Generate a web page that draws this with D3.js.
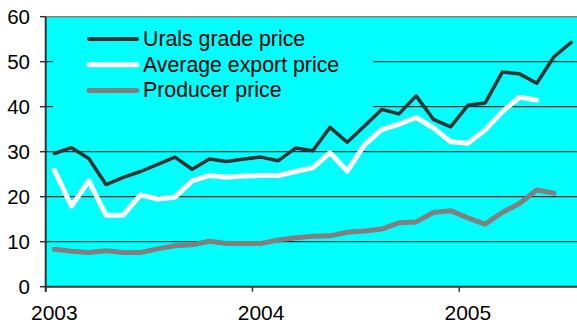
<!DOCTYPE html>
<html>
<head>
<meta charset="utf-8">
<script src="https://cdn.jsdelivr.net/npm/d3@7/dist/d3.min.js"></script>
<style>
  html, body { margin: 0; padding: 0; background: #ffffff; }
  svg { display: block; font-family: "Liberation Sans", Arial, sans-serif; }
</style>
</head>
<body>
<svg id="chart" width="577" height="325"></svg>
<script>
// Monthly oil prices, Jan 2003 onwards (USD per barrel)
const yearLabels = ["2003", "2004", "2005"];
const seriesNames = ["Urals grade price", "Average export price", "Producer price"];
const yTicks = [0, 10, 20, 30, 40, 50, 60];

const uralsPrice = [29.6, 30.9, 28.5, 22.7, 24.3, 25.6, 27.2, 28.8, 26.1, 28.4,
                    27.8, 28.4, 28.8, 28.0, 30.8, 30.2, 35.4, 32.1, 35.7, 39.4,
                    38.4, 42.4, 37.2, 35.5, 40.3, 40.8, 47.7, 47.3, 45.2, 51.1, 54.3];
const exportPrice = [25.9, 17.9, 23.5, 15.9, 15.9, 20.4, 19.5, 19.9, 23.5, 24.7,
                     24.3, 24.6, 24.7, 24.7, 25.6, 26.4, 29.8, 25.7, 31.5, 34.9,
                     36.1, 37.6, 35.3, 32.2, 31.9, 34.8, 38.9, 42.1, 41.5];
const producerPrice = [8.3, 7.9, 7.6, 8.0, 7.6, 7.6, 8.4, 9.1, 9.3, 10.1,
                       9.6, 9.6, 9.6, 10.4, 10.9, 11.2, 11.3, 12.1, 12.4, 12.8,
                       14.2, 14.4, 16.5, 16.9, 15.3, 13.9, 16.5, 18.5, 21.5, 20.8];

const colors = ["#333333", "#ffffff", "#808080"];
const widths = [3.5, 5, 5];

const svg = d3.select("#chart");
const plotLeft = 45.7, plotTop = 16.7, plotBottom = 286.7, monthW = 17.23, nMonths = 32;

const x = d3.scaleLinear().domain([0, nMonths]).range([plotLeft, plotLeft + nMonths * monthW]);
const y = d3.scaleLinear().domain([0, 60]).range([plotBottom, plotTop]);

// plot background
svg.append("rect")
  .attr("x", plotLeft).attr("y", plotTop)
  .attr("width", 577 - plotLeft).attr("height", plotBottom - plotTop)
  .attr("fill", "#00ffff");

// horizontal gridlines
svg.append("g").selectAll("line")
  .data(yTicks.filter(v => v > 0 && v < 60))
  .join("line")
  .attr("x1", plotLeft).attr("x2", 577)
  .attr("y1", d => y(d)).attr("y2", d => y(d))
  .attr("stroke", "#000").attr("stroke-width", 1);

// top border of plot
svg.append("line")
  .attr("x1", plotLeft).attr("x2", 577)
  .attr("y1", y(60)).attr("y2", y(60))
  .attr("stroke", "#808080").attr("stroke-width", 1.5);

// legend box (covers gridlines behind it)
const legend = svg.append("g");
legend.append("rect")
  .attr("x", 53).attr("y", 22).attr("width", 320).attr("height", 88)
  .attr("fill", "#00ffff");
seriesNames.forEach((name, k) => {
  const ly = 39 + k * 25.8;
  legend.append("line")
    .attr("x1", 89).attr("x2", 137).attr("y1", ly).attr("y2", ly)
    .attr("stroke", colors[k]).attr("stroke-width", k === 0 ? 4 : 5)
    .attr("stroke-linecap", "round");
  legend.append("text")
    .attr("x", 143).attr("y", ly + 6.8)
    .attr("font-size", 21.3).attr("fill", "#000")
    .text(name);
});

// data lines
const line = d3.line().x((d, i) => x(i + 0.5)).y(d => y(d));
[uralsPrice, exportPrice, producerPrice].forEach((vals, k) => {
  svg.append("path")
    .datum(vals)
    .attr("d", line)
    .attr("fill", "none")
    .attr("stroke", colors[k])
    .attr("stroke-width", widths[k])
    .attr("stroke-linejoin", "round")
    .attr("stroke-linecap", "round");
});

// y axis
const yAxis = svg.append("g");
yAxis.append("line")
  .attr("x1", plotLeft).attr("x2", plotLeft).attr("y1", plotTop).attr("y2", plotBottom + 5)
  .attr("stroke", "#333").attr("stroke-width", 2);
yAxis.selectAll("line.tick").data(yTicks).join("line")
  .attr("class", "tick")
  .attr("x1", 40).attr("x2", plotLeft).attr("y1", d => y(d)).attr("y2", d => y(d))
  .attr("stroke", "#333").attr("stroke-width", 1.5);
yAxis.selectAll("text").data(yTicks).join("text")
  .attr("x", 30).attr("y", d => y(d) + 7)
  .attr("text-anchor", "end").attr("font-size", 20.5).attr("fill", "#000")
  .text(d => d);

// x axis
const xAxis = svg.append("g");
xAxis.append("line")
  .attr("x1", plotLeft).attr("x2", 577).attr("y1", plotBottom).attr("y2", plotBottom)
  .attr("stroke", "#333").attr("stroke-width", 2);
yearLabels.forEach((lab, k) => {
  xAxis.append("line")
    .attr("x1", x(k * 12)).attr("x2", x(k * 12))
    .attr("y1", plotBottom).attr("y2", plotBottom + 5)
    .attr("stroke", "#333").attr("stroke-width", 1.5);
  xAxis.append("text")
    .attr("x", x(k * 12 + 0.5)).attr("y", 320)
    .attr("text-anchor", "middle").attr("font-size", 21).attr("fill", "#000")
    .text(lab);
});
</script>
</body>
</html>
